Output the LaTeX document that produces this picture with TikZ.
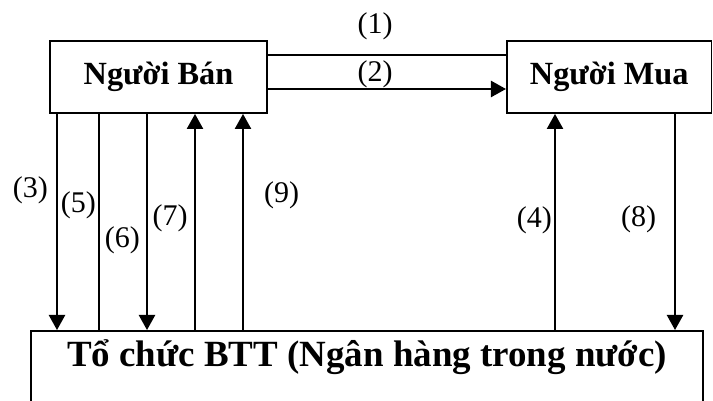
\documentclass[tikz,border=0pt]{standalone}
\usepackage{fontspec}
\setmainfont{Liberation Serif}
\usetikzlibrary{arrows.meta}

\begin{document}
\begin{tikzpicture}[%
		x=0.433pt,
		y=-0.433pt,
		line width=0.8pt,
		>={Triangle[length=6.5pt,width=7pt]},
		party/.style={%
			draw,
			minimum height=31.2pt,
			font=\fontsize{14}{16}\selectfont\bfseries
		},
		lbl/.style={%
			inner sep=1pt,
			font=\fontsize{13}{15}\selectfont
		}
		]
		\useasboundingbox (0,0) rectangle (713,400);
		\node[party, minimum width=94pt]   (seller) at (158.5,77)  {Người Bán};
		\node[party, minimum width=88.6pt] (buyer)  at (609.2,77)  {Người Mua};
		\node[draw, anchor=north, minimum width=291pt, inner ysep=0pt,
			text height=15.2pt, text depth=26pt,
			font=\fontsize{16}{18}\selectfont\bfseries] (btt) at (367,330) {Tổ chức BTT (Ngân hàng trong nước)};
		
		% seller <-> buyer
		\draw (seller.east |- 0,55) -- node[lbl, above, pos=.45, yshift=5pt] {(1)} (buyer.west |- 0,55);
		\draw[->] (seller.east |- 0,89) -- node[lbl, above, pos=.45, inner sep=0pt] {(2)} (buyer.west |- 0,89);
		
		% seller <-> bank
		\draw[->] (seller.south -| 57,0)  -- node[lbl, left, pos=.355, xshift=-2.5pt] {(3)} (btt.north -| 57,0);
		\draw     (seller.south -| 99,0)  -- node[lbl, left, pos=.424] {(5)} (btt.north -| 99,0);
		\draw[->] (seller.south -| 147,0) -- node[lbl, left, pos=.585, xshift=-1.7pt] {(6)}
			node[lbl, right, pos=.484, xshift=1pt] {(7)} (btt.north -| 147,0);
		\draw[->] (btt.north -| 195,0) -- (seller.south -| 195,0);
		\draw[->] (btt.north -| 243,0) -- node[lbl, right, pos=.622, xshift=7.7pt] {(9)} (seller.south -| 243,0);
		
		% buyer <-> bank
		\draw[->] (btt.north -| 555,0) -- node[lbl, left, pos=.51] {(4)} (buyer.south -| 555,0);
		\draw[->] (buyer.south -| 675,0) -- node[lbl, left, pos=.488, xshift=-6.8pt] {(8)} (btt.north -| 675,0);
		\end{tikzpicture}
\end{document}
